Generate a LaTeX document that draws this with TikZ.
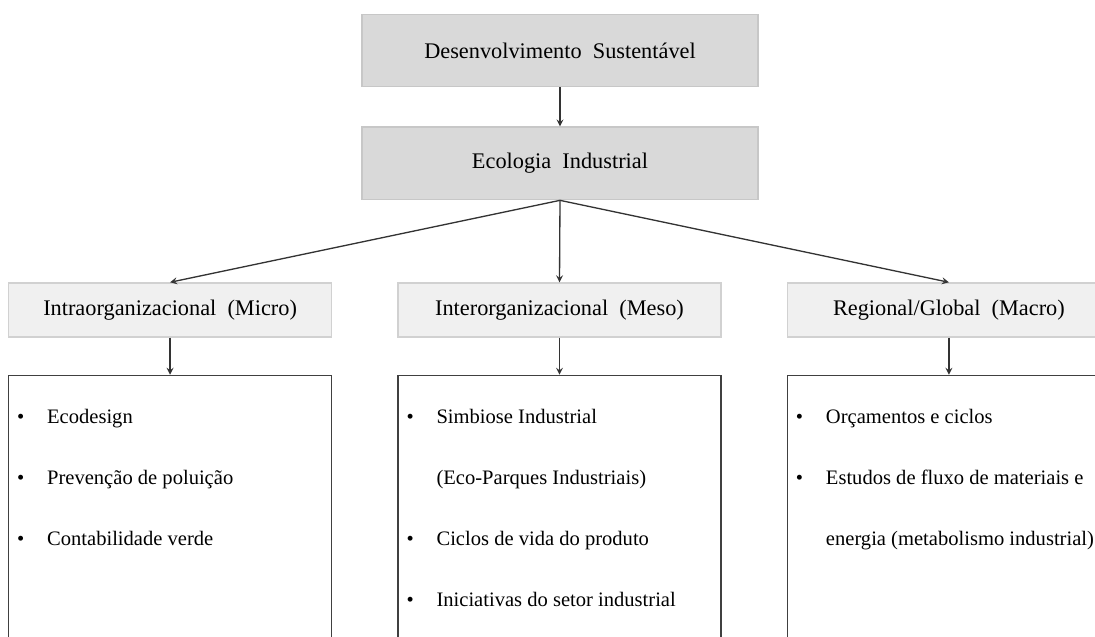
\documentclass[tikz,border=0pt]{standalone}
\usepackage{fontspec}
\setmainfont{Liberation Serif}
\usetikzlibrary{positioning}
\tikzset{
  topbox/.style={draw=black!22, fill=black!15, line width=0.8pt, minimum width=7.92cm, minimum height=1.45cm},
  levelbox/.style={draw=black!18, fill=black!6, line width=0.8pt, minimum width=6.46cm, minimum height=1.08cm},
  listbox/.style={draw=black!75, line width=0.9pt, minimum width=6.46cm, minimum height=6.6cm},
  entry/.style={anchor=base west, inner sep=0pt, font=\fontsize{11.7}{14}\selectfont},
  link/.style={->, draw=black!80, line width=0.75pt},
}
\newcommand{\blt}{\makebox[0.6cm][l]{\textbullet}}
\newcommand{\cont}{\hspace*{0.6cm}}

\begin{document}
\begin{tikzpicture}[>=stealth, font=\fontsize{12.7}{15}\selectfont, node distance=0.78cm]
  \useasboundingbox (0,0) rectangle (21.9,12.74);
  \clip (0,0) rectangle (21.9,12.74);
  % topo
  \node[topbox] (ds) at (11.2,11.73) {Desenvolvimento\ \ Sustentável};
  \node[topbox, below=of ds] (ei) {Ecologia\ \ Industrial};
  % niveis
  \node[levelbox] (meso) at (11.19,6.54) {Interorganizacional\ \ (Meso)};
  \node[levelbox, left=1.3cm of meso] (micro) {Intraorganizacional\ \ (Micro)};
  \node[levelbox, right=1.3cm of meso] (macro) {Regional/Global\ \ (Macro)};
  % listas
  \node[listbox, below=0.74cm of micro] (lmicro) {};
  \node[listbox, below=0.74cm of meso] (lmeso) {};
  \node[listbox, below=0.74cm of macro] (lmacro) {};
  % setas
  \draw[link] (ds) -- (ei);
  \foreach \n in {micro,meso,macro}
    \draw[link] (ei.south) -- (\n.north);
  \foreach \n in {micro,meso,macro}
    \draw[link] (\n) -- (l\n);
  % itens
  \foreach \t [count=\k] in {Ecodesign, Prevenção de poluição, Contabilidade verde}
    \node[entry] (mi\k) at ([shift={(0.18,{-0.98-1.22*(\k-1)})}]lmicro.north west) {\blt\t};
  \foreach \t [count=\k] in {{\blt Simbiose Industrial}, {\cont(Eco-Parques Industriais)}, {\blt Ciclos de vida do produto}, {\blt Iniciativas do setor industrial}}
    \node[entry] (me\k) at ([shift={(0.18,{-0.98-1.22*(\k-1)})}]lmeso.north west) {\t};
  \foreach \t [count=\k] in {{\blt Orçamentos e ciclos}, {\blt Estudos de fluxo de materiais e}, {\cont energia (metabolismo industrial)}}
    \node[entry] (ma\k) at ([shift={(0.18,{-0.98-1.22*(\k-1)})}]lmacro.north west) {\t};
\end{tikzpicture}
\end{document}
